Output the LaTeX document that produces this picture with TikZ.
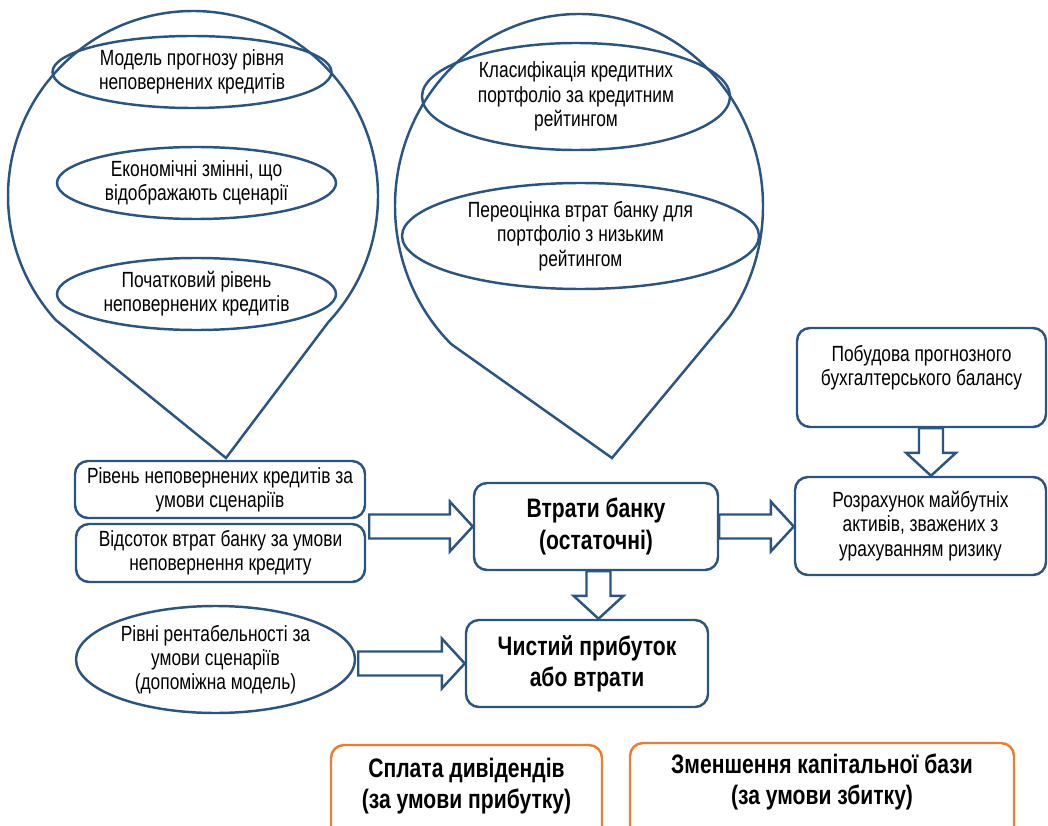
\documentclass[tikz,border=0pt]{standalone}
\usepackage{fontspec}
\setmainfont{Liberation Sans}[FakeStretch=0.79]
\usetikzlibrary{shapes.geometric,calc}

\definecolor{schemeblue}{RGB}{42,85,130}
\definecolor{schemeorange}{RGB}{237,125,49}

% block arrows: from #1 to the tip #2
\newcommand{\harrow}[2]{%
\draw[bigarrow] ($(#1)+(0,0.24)$) -- ($(#2)+(-0.46,0.24)$) -- ($(#2)+(-0.46,0.5)$) -- (#2) -- ($(#2)+(-0.46,-0.5)$) -- ($(#2)+(-0.46,-0.24)$) -- ($(#1)+(0,-0.24)$) -- cycle;}
\newcommand{\varrow}[2]{%
\draw[bigarrow] ($(#1)+(-0.24,0)$) -- ($(#2)+(-0.24,0.46)$) -- ($(#2)+(-0.5,0.46)$) -- (#2) -- ($(#2)+(0.5,0.46)$) -- ($(#2)+(0.24,0.46)$) -- ($(#1)+(0.24,0)$) -- cycle;}

\begin{document}
\begin{tikzpicture}[
  baseshape/.style={draw=schemeblue,line width=1.4pt,align=center,inner sep=0pt,
    font=\fontsize{12.5}{13.8}\selectfont},
  oval/.style={baseshape,ellipse},
  card/.style={baseshape,rectangle,rounded corners=0.26cm},
  bigcard/.style={card,font=\fontsize{15.2}{17.8}\selectfont\bfseries},
  orangecard/.style={bigcard,draw=schemeorange},
  balloon/.style={draw=schemeblue,line width=1.4pt},
  bigarrow/.style={draw=schemeblue,line width=1.4pt,fill=white}]
\useasboundingbox (0,0) rectangle (20.96,16.5);

% callouts
\coordinate (lefttip) at (4.52,7.34);
\coordinate (righttip) at (12.24,7.34);
\draw[balloon] (3.86,12.58) ++(317:3.70) arc[start angle=317,end angle=582,radius=3.70] -- (lefttip) -- cycle;
\draw[balloon] (11.58,12.38) ++(325:3.68 and 3.84) arc[start angle=325,end angle=586,x radius=3.68,y radius=3.84] -- (righttip) -- cycle;

\node[oval,minimum width=5.58cm,minimum height=1.44cm] (model) at (3.84,15.06) {Модель прогнозу рівня\\неповернених кредитів};
\node[oval,minimum width=5.58cm,minimum height=1.44cm] (econ) at (3.93,12.84) {Економічні змінні, що\\відображають сценарії};
\node[oval,minimum width=5.58cm,minimum height=1.44cm] (start) at (3.93,10.62) {Початковий рівень\\неповернених кредитів};
\node[oval,minimum width=6.16cm,minimum height=2.14cm] (klas) at (11.52,14.57) {Класифікація кредитних\\портфоліо за кредитним\\рейтингом};
\node[oval,minimum width=7.14cm,minimum height=2.12cm] (pereots) at (11.61,11.78) {Переоцінка втрат банку для\\портфоліо з низьким\\рейтингом};

% middle row
\node[card,minimum width=5.80cm,minimum height=1.14cm] (riven) at (4.40,6.71) {Рівень неповернених кредитів за\\умови сценаріїв};
\node[card,minimum width=5.78cm,minimum height=1.16cm] (vidsotok) at (4.41,5.44) {Відсоток втрат банку за умови\\неповернення кредиту};
\node[bigcard,minimum width=4.88cm,minimum height=1.74cm] (vtraty) at (11.92,5.97) {Втрати банку\\(остаточні)};
\node[card,minimum width=4.98cm,minimum height=1.98cm] (pobudova) at (18.43,8.95) {Побудова прогнозного\\бухгалтерського балансу\\\mbox{}};
\node[card,minimum width=5.02cm,minimum height=1.96cm] (rozrakh) at (18.41,5.98) {Розрахунок майбутніх\\активів, зважених з\\урахуванням ризику};
\node[oval,minimum width=5.58cm,minimum height=2.14cm] (rentab) at (4.31,3.31) {Рівні рентабельності за\\умови сценаріїв\\(допоміжна модель)};
\node[bigcard,minimum width=4.84cm,minimum height=1.74cm] (chystyi) at (11.74,3.23) {Чистий прибуток\\або втрати};

% bottom
\node[orangecard,minimum width=5.42cm,minimum height=2.16cm] (splata) at (9.33,0.52) {Сплата дивідендів\\(за умови прибутку)\\\mbox{}};
\node[orangecard,minimum width=7.68cm,minimum height=2.08cm] (zmensh) at (16.44,0.60) {Зменшення капітальної бази\\(за умови збитку)\\\mbox{}};

\coordinate (a1) at ($(riven.east |- vtraty.west)+(0.06,0)$);
\coordinate (a4) at ($(rentab.east |- chystyi.west)+(0.04,0)$);
\coordinate (d1) at ($(vtraty.south)+(0.05,0)$);
\coordinate (d2) at ($(pobudova.south)+(0.19,0)$);
\harrow{a1}{vtraty.west}
\harrow{vtraty.east}{rozrakh.west |- vtraty.east}
\harrow{a4}{chystyi.west}
\varrow{d1}{d1 |- chystyi.north}
\varrow{d2}{d2 |- rozrakh.north}
%\draw[->,thick] (vtraty) -- (chystyi);

\end{tikzpicture}
\end{document}
